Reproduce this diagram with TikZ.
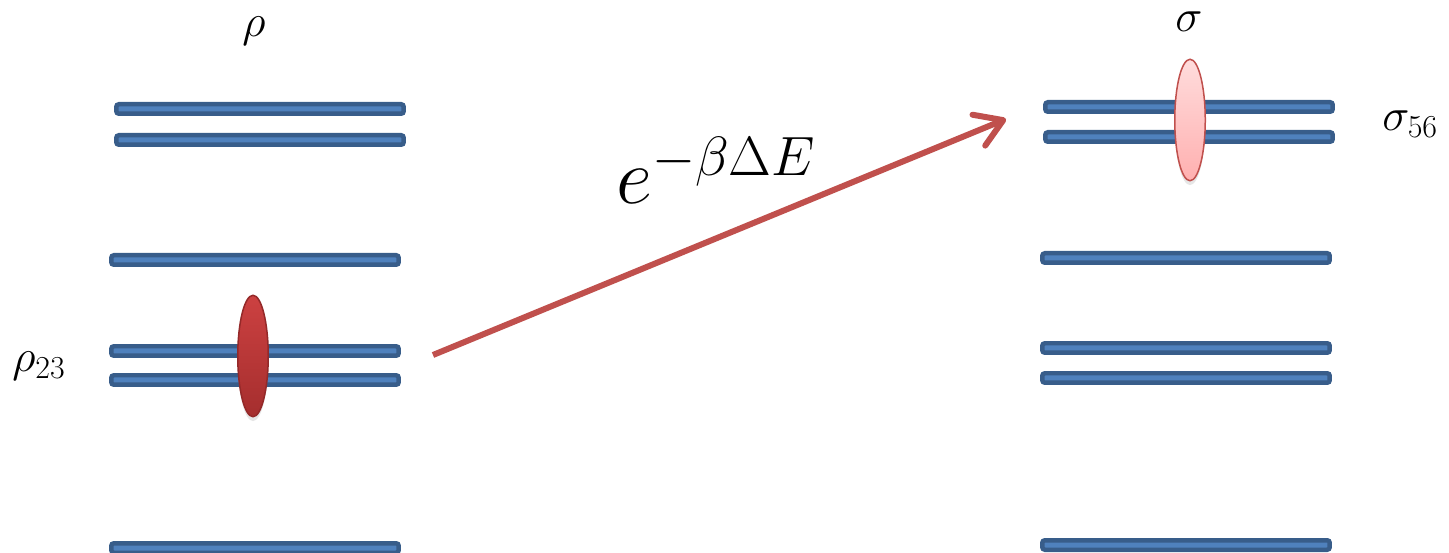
\RequirePackage{fix-cm}
\documentclass[tikz,border=0pt]{standalone}
\definecolor{levelEdge}{HTML}{385D8A}
\definecolor{levelFill}{HTML}{4F81BD}
\definecolor{rateRed}{HTML}{C0504D}
\definecolor{popDarkTop}{HTML}{CC4141}
\definecolor{popDarkBot}{HTML}{A52E2E}
\definecolor{popLightTop}{HTML}{FFDCDC}
\definecolor{popLightBot}{HTML}{FFB0B0}
\usepackage{tikz}
\usetikzlibrary{arrows.meta, positioning, shapes.geometric, shadows}

\begin{document}
\begin{tikzpicture}[
    x=0.02cm, y=-0.02cm,
    level/.style={
      rectangle,
      draw=levelEdge,
      fill=levelFill,
      line width=0.09cm,
      rounded corners=1.5pt,
      minimum width=5.75cm,
      minimum height=0.19cm,
      inner sep=0pt,
    },
    pop/.style={
      ellipse,
      minimum width=0.61cm,
      minimum height=2.43cm,
      inner sep=0pt,
      line width=0.03cm,
      drop shadow={shadow xshift=0pt, shadow yshift=-2.5pt, opacity=0.2},
    },
    lab/.style={font=\fontsize{26}{28}\selectfont, inner sep=0pt},
    rate/.style={-{Straight Barb[length=15pt, width=19pt, round]}, rateRed, line width=0.12cm},
  ]
    \useasboundingbox (0,0) rectangle (1449,553);

    % levels of rho
    \foreach \name/\x/\y in {r1/260/109, r2/260/140, r3/255/260, r4/255/351, r5/255/380, r6/255/548}
      \node[level] (\name) at (\x,\y) {};

    % levels of sigma
    \foreach \name/\x/\y in {s1/1189/107, s2/1189/137, s3/1186/258, s4/1186/348, s5/1186/378, s6/1186/545}
      \node[level] (\name) at (\x,\y) {};

    % populations
    \node[pop, draw=popDarkBot!90!black, top color=popDarkTop, bottom color=popDarkBot] (rhopop) at (253,356) {};
    \node[pop, draw=rateRed, top color=popLightTop, bottom color=popLightBot] (sigpop) at (1190,120) {};

    % labels
    \node[lab, anchor=base] (rho) at (254,37) {$\rho$};
    \node[lab, anchor=base] (sig) at (1189,32) {$\sigma$};
    \node[lab, anchor=base west] (rho23) at (12,372) {$\rho_{23}$};
    \node[lab, anchor=base west] (sig56) at (1382,131) {$\sigma_{56}$};

    % transition
    \coordinate (src) at (433,355);
    \coordinate (dst) at (1006,119);
    \draw[rate] (src) -- (dst);
    \node[anchor=base west, inner sep=0pt, font=\fontsize{45}{50}\selectfont] (boltz) at (616,204) {$e^{-\beta\Delta E}$};
  \end{tikzpicture}
\end{document}
